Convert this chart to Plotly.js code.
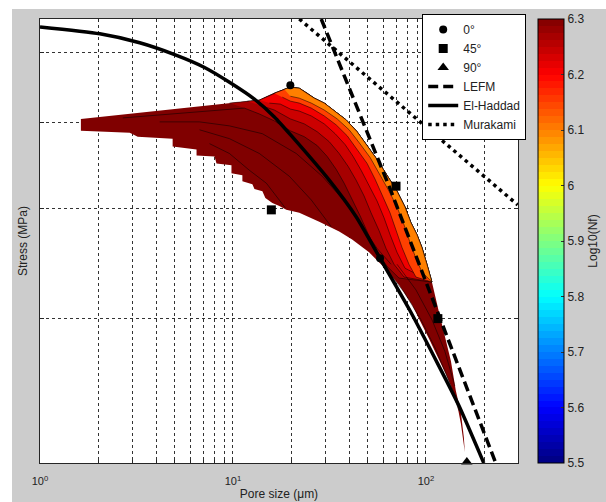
<!DOCTYPE html>
<html>
<head>
<meta charset="utf-8">
<script src="https://cdn.plot.ly/plotly-3.0.1.min.js"></script>
<style>
html,body{margin:0;padding:0;background:#ffffff;}
#chart{position:absolute;left:12px;top:9px;width:594px;height:493px;}
</style>
</head>
<body>
<div id="chart"></div>
<script>
// ---------------- data (pore size in µm, stress in MPa) ----------------
// outline of the filled contour region: upper/right edge (left -> tip)
const edgeTopX = [1.629, 4.697, 9.592, 11.88, 13.71, 16.39, 18.46, 19.83, 22.07, 24.27, 26.38, 29.71, 34.27, 38.60, 43.99, 49.56, 55.81, 62.86, 70.82, 77.89, 83.65, 89.83, 95.35, 101.2, 107.4, 116.7, 125.3, 134.7, 142.9, 151.7, 157.2, 159.1];
const edgeTopY = [504.6, 517.7, 525.8, 528.5, 529.9, 539.6, 545.1, 548.0, 546.5, 539.6, 532.6, 525.8, 513.7, 503.3, 488.0, 470.7, 454.0, 435.7, 418.1, 401.2, 385.1, 373.4, 361.1, 345.6, 330.0, 305.4, 286.4, 268.6, 248.6, 234.9, 220.3, 211.9];
// lower/left edge (tip -> left)
const edgeLowX = [151.7, 142.9, 126.8, 103.6, 84.65, 72.52, 60.66, 50.75, 41.45, 35.52, 27.99, 22.07, 18.90, 17.39, 16.00, 14.72, 14.21, 12.92, 12.61, 11.19, 11.19, 9.823, 9.823, 8.217, 8.024, 6.476, 6.476, 4.868, 4.868, 3.209, 2.918, 1.629];
const edgeLowY = [228.3, 244.2, 259.7, 284.9, 311.0, 327.5, 343.0, 356.5, 368.6, 376.3, 386.1, 395.1, 398.2, 402.3, 405.4, 410.7, 418.1, 420.3, 425.7, 429.1, 435.7, 438.0, 447.1, 449.4, 457.6, 458.7, 465.9, 469.5, 479.3, 481.8, 486.7, 489.2];

// Log10(Nf) level of the interior and of each coloured band (inner boundary curves)
const baseLevel = 6.3;
const bandLevels = [6.27, 6.24, 6.21, 6.15, 6.1];
const bandStartIdx = [2, 3, 4, 5, 6];
const bandEndIdx = [24, 24, 24, 24, 24];
const bandEX = [11.46, 13.71, 16.39, 19.83, 23.42, 27.34, 30.78, 34.27, 37.70, 41.45, 45.60, 50.15, 55.81, 62.86, 72.52];
const bandEY = [519.0, 511.1, 502.0, 489.2, 481.8, 470.7, 457.6, 442.5, 426.8, 409.6, 392.1, 374.3, 357.4, 343.8, 333.4];
const bandDX = [13.71, 16.39, 19.83, 23.42, 27.34, 31.53, 35.52, 39.53, 43.47, 47.82, 51.97, 57.16, 62.12, 68.34, 76.97];
const bandDY = [523.1, 516.4, 504.6, 498.1, 488.0, 475.6, 461.1, 445.9, 430.2, 412.8, 395.1, 377.3, 360.2, 345.6, 334.3];
const bandCX = [15.44, 17.60, 19.83, 22.07, 25.46, 29.71, 33.86, 38.15, 41.95, 46.15, 50.75, 55.81, 60.66, 65.16, 70.82, 77.89];
const bandCY = [525.8, 524.4, 517.7, 515.0, 508.5, 498.1, 485.5, 471.9, 457.6, 441.4, 424.6, 407.5, 390.1, 373.4, 356.5, 342.1];
const bandBX = [18.02, 19.83, 22.07, 25.46, 29.71, 34.27, 39.06, 43.47, 49.56, 54.51, 59.94, 65.16, 69.98, 75.15, 81.68, 88.77];
const bandBY = [534.0, 528.5, 525.8, 519.0, 508.5, 496.8, 483.0, 467.1, 449.4, 431.3, 411.7, 395.1, 377.3, 361.1, 345.6, 334.3];
const bandAX = [19.83, 22.07, 25.46, 29.71, 34.68, 40.00, 45.06, 51.36, 57.16, 64.39, 70.82, 76.97, 82.66, 88.77, 95.35];
const bandAY = [535.3, 532.6, 525.8, 516.4, 504.6, 490.5, 474.4, 456.4, 438.0, 418.1, 401.2, 383.1, 365.8, 351.0, 338.6];

// further contour lines inside the dark region
const k1X = [2.685, 4.170, 6.712, 11.46];
const k1Y = [505.9, 509.8, 515.0, 519.0];
const k2X = [4.170, 6.712, 9.592, 14.21, 21.29, 29.01, 37.70, 46.15, 55.81, 65.94];
const k2Y = [500.7, 500.7, 495.5, 485.5, 461.1, 434.6, 407.5, 383.1, 360.2, 345.6];
const k3X = [6.712, 9.592, 13.71, 19.59, 25.46, 32.29];
const k3Y = [490.5, 479.3, 461.1, 434.6, 408.6, 381.2];
const k4X = [7.560, 9.592, 12.17, 14.90, 18.68];
const k4Y = [473.1, 461.1, 441.4, 426.8, 400.2];
const k5X = [60.66, 76.97, 94.23, 112.6, 131.5, 148.1];
const k5Y = [343.0, 321.6, 299.2, 276.9, 255.1, 236.1];
const k6X = [70.82, 88.77, 107.4, 125.3, 141.2];
const k6Y = [345.6, 323.3, 299.2, 275.6, 251.8];

// model curves
const elHaddadX = [1.000, 2.042, 3.287, 4.986, 7.124, 9.592, 12.91, 16.39, 20.06, 31.53, 43.48, 57.85, 81.68, 116.8, 148.1, 199.4];
const elHaddadY = [641.1, 629.7, 615.2, 596.5, 576.9, 555.1, 531.3, 507.2, 483.0, 430.2, 391.1, 351.0, 307.8, 265.1, 239.2, 206.0];
const lefmX = [28.67, 65.94, 230.0];
const lefmY = [654.5, 418.1, 206.0];
const murakamiX = [22.07, 298.9];
const murakamiY = [654.5, 403.4];

// experimental points
const deg0X = [19.83, 57.85];
const deg0Y = [550.8, 351.0];
const deg45X = [15.81, 69.98, 115.3];
const deg45Y = [398.2, 423.5, 300.0];
const deg90X = [162.9];
const deg90Y = [206.5];

// axes / colorbar ticks
const xTickVals = [1,2,3,4,5,6,7,8,9,10,20,30,40,50,60,70,80,90,100,200,300];
const xTickText = ['10<sup>0</sup>','','','','','','','','','10<sup>1</sup>','','','','','','','','','10<sup>2</sup>','',''];
const yTickVals = [300, 400, 500, 600];
const cbTickVals = [5.5, 5.6, 5.7, 5.8, 5.9, 6.0, 6.1, 6.2, 6.3];
const cbTickText = ['5.5','5.6','5.7','5.8','5.9','6','6.1','6.2','6.3'];
const cMin = 5.5, cMax = 6.3;

// ---------------- styling helpers ----------------
function jet(t) {
  const c = v => Math.round(255 * Math.max(0, Math.min(1, v)));
  return 'rgb(' + c(1.5 - Math.abs(4*t - 3)) + ',' + c(1.5 - Math.abs(4*t - 2)) + ',' + c(1.5 - Math.abs(4*t - 1)) + ')';
}
function levelColor(v) { return jet((v - cMin) / (cMax - cMin)); }
const jetScale = [];
for (let i = 0; i < 64; i++) {
  const col = jet((i + 0.5) / 64);
  jetScale.push([i / 64, col]);
  jetScale.push([(i + 1) / 64, col]);
}

const FONT = 'Liberation Sans, Arial, Helvetica, sans-serif';
const traces = [];

// base region
traces.push({
  type: 'scatter', mode: 'lines',
  x: edgeTopX.concat(edgeLowX), y: edgeTopY.concat(edgeLowY),
  fill: 'toself', fillcolor: levelColor(baseLevel),
  line: {width: 0, color: levelColor(baseLevel)},
  showlegend: false, hoverinfo: 'skip'
});

// coloured bands
const bandCurves = [[bandEX, bandEY], [bandDX, bandDY], [bandCX, bandCY], [bandBX, bandBY], [bandAX, bandAY]];
bandCurves.forEach((cv, i) => {
  const s = bandStartIdx[i], e = bandEndIdx[i];
  const px = edgeTopX.slice(s, e + 1).concat(cv[0].slice().reverse());
  const py = edgeTopY.slice(s, e + 1).concat(cv[1].slice().reverse());
  traces.push({
    type: 'scatter', mode: 'lines', x: px, y: py,
    fill: 'toself', fillcolor: levelColor(bandLevels[i]),
    line: {width: 0.6, color: 'rgba(0,0,0,0.85)'},
    showlegend: false, hoverinfo: 'skip'
  });
});

// inner contour lines
const kLines = [[k1X, k1Y], [k2X, k2Y], [k3X, k3Y], [k4X, k4Y], [k5X, k5Y], [k6X, k6Y]];
let kx = [], ky = [];
kLines.forEach(l => { kx = kx.concat(l[0], [null]); ky = ky.concat(l[1], [null]); });
traces.push({
  type: 'scatter', mode: 'lines', x: kx, y: ky,
  line: {width: 0.6, color: 'rgba(0,0,0,0.85)'},
  showlegend: false, hoverinfo: 'skip', connectgaps: false
});

// colorbar carrier
traces.push({
  type: 'scatter', mode: 'markers', x: [deg0X[0]], y: [deg0Y[0]],
  marker: {size: 1, opacity: 0, color: [baseLevel], cmin: cMin, cmax: cMax, colorscale: jetScale, showscale: true,
    colorbar: {
      x: 1.0418, xanchor: 'left', xpad: 0, y: 0.5, yanchor: 'middle', ypad: 0,
      len: 1, lenmode: 'fraction', thickness: 26, thicknessmode: 'pixels',
      outlinewidth: 1, outlinecolor: '#000',
      tickmode: 'array', tickvals: cbTickVals, ticktext: cbTickText,
      ticks: 'inside', ticklen: 3, tickcolor: '#333', tickwidth: 1,
      tickfont: {family: FONT, size: 12, color: '#222'},
      title: {text: 'Log10(Nf)', side: 'right', font: {family: FONT, size: 12, color: '#222'}}
    }},
  showlegend: false, hoverinfo: 'skip'
});

// model lines
traces.push({type: 'scatter', mode: 'lines', name: 'LEFM', x: lefmX, y: lefmY,
  line: {color: '#000', width: 3.5, dash: '10px,5px'}, legendrank: 4});
traces.push({type: 'scatter', mode: 'lines', name: 'El-Haddad', x: elHaddadX, y: elHaddadY,
  line: {color: '#000', width: 3.5, shape: 'spline', smoothing: 0.6}, legendrank: 5});
traces.push({type: 'scatter', mode: 'lines', name: 'Murakami', x: murakamiX, y: murakamiY,
  line: {color: '#000', width: 3.5, dash: '3.5px,4px'}, legendrank: 6});

// experimental markers
traces.push({type: 'scatter', mode: 'markers', name: '0°', x: deg0X, y: deg0Y,
  marker: {symbol: 'circle', size: 8, color: '#000'}, legendrank: 1, cliponaxis: false});
traces.push({type: 'scatter', mode: 'markers', name: '45°', x: deg45X, y: deg45Y,
  marker: {symbol: 'square', size: 9, color: '#000'}, legendrank: 2, cliponaxis: false});
traces.push({type: 'scatter', mode: 'markers', name: '90°', x: deg90X, y: deg90Y,
  marker: {symbol: 'triangle-up', size: 10, color: '#000'}, legendrank: 3, cliponaxis: false});

const gridCol = 'rgba(0,0,0,0.8)';
const layout = {
  width: 594, height: 493,
  margin: {l: 28, r: 87, t: 5, b: 39, pad: 0},
  paper_bgcolor: '#cccccc', plot_bgcolor: '#ffffff',
  font: {family: FONT, size: 12, color: '#000'},
  showlegend: true,
  legend: {
    x: 0.7996, y: 1.0111, xanchor: 'left', yanchor: 'top',
    bgcolor: '#ffffff', bordercolor: '#000', borderwidth: 1,
    font: {family: FONT, size: 12, color: '#222'}, tracegroupgap: 0, itemwidth: 30
  },
  xaxis: {
    type: 'log', range: [0, Math.log10(300)], autorange: false,
    tickmode: 'array', tickvals: xTickVals, ticktext: xTickText,
    ticks: 'inside', ticklen: 3, tickcolor: '#262626', tickwidth: 1, ticklabelstandoff: 8,
    showline: true, linecolor: '#262626', linewidth: 1, mirror: 'ticks',
    showgrid: true, gridcolor: gridCol, gridwidth: 1, griddash: '3px,3px',
    zeroline: false, automargin: false,
    tickfont: {family: FONT, size: 11, color: '#222'},
    title: {text: 'Pore size (μm)', font: {family: FONT, size: 12, color: '#222'}, standoff: 0}
  },
  yaxis: {
    type: 'log', range: [Math.log10(206.0), Math.log10(654.5)], autorange: false,
    tickmode: 'array', tickvals: yTickVals, showticklabels: false,
    ticks: 'inside', ticklen: 4, tickcolor: '#262626', tickwidth: 1,
    showline: true, linecolor: '#262626', linewidth: 1, mirror: 'ticks',
    showgrid: true, gridcolor: gridCol, gridwidth: 1, griddash: '3px,3px',
    zeroline: false, automargin: false,
    title: {text: 'Stress (MPa)', font: {family: FONT, size: 12, color: '#222'}, standoff: 8}
  },
  hovermode: false
};

Plotly.newPlot('chart', traces, layout, {staticPlot: true, displayModeBar: false, responsive: false});
</script>
</body>
</html>
